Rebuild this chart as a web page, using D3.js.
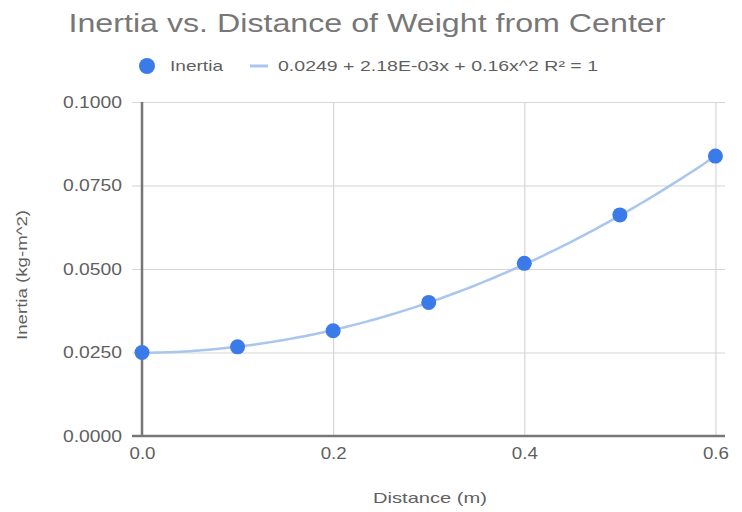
<!DOCTYPE html>
<html>
<head>
<meta charset="utf-8">
<script src="https://cdn.jsdelivr.net/npm/d3@7"></script>
<style>
  html, body { margin: 0; padding: 0; background: #fff; }
  svg { display: block; font-family: "Liberation Sans", Arial, sans-serif; }
</style>
</head>
<body>
<svg id="chart" width="742" height="512"></svg>
<script>
// Measured inertia at each weight distance
const distances = [0.0, 0.1, 0.2, 0.3, 0.4, 0.5, 0.6];
const inertia = [0.0250, 0.0267, 0.0315, 0.0400, 0.0517, 0.0662, 0.0838];

// Quadratic trendline coefficients: c0 + c1*x + c2*x^2
const trendCoefficients = [0.0249, 2.18e-3, 0.16];
const trendLabel = "0.0249 + 2.18E-03x + 0.16x^2 R² = 1";

const yTicks = [0, 0.025, 0.05, 0.075, 0.1];
const xTicks = [0.0, 0.2, 0.4, 0.6];

const svg = d3.select("#chart");
const margin = { left: 142, right: 17, top: 102, bottom: 76 };
const W = 742, H = 512;

const x = d3.scaleLinear().domain([0, 0.61]).range([margin.left, W - margin.right]);
const y = d3.scaleLinear().domain([0, 0.1]).range([H - margin.bottom, margin.top]);

const pointColor = "#3b7be9";
const trendColor = "#a9c6ef";
const labelColor = "#5f5f5f";

// Title
svg.append("text")
  .attr("x", 367).attr("y", 32)
  .attr("text-anchor", "middle")
  .attr("font-size", 26)
  .attr("fill", "#777")
  .attr("textLength", 597).attr("lengthAdjust", "spacingAndGlyphs")
  .text("Inertia vs. Distance of Weight from Center");

// Legend
const legend = svg.append("g");
legend.append("circle").attr("cx", 147).attr("cy", 66).attr("r", 8).attr("fill", pointColor);
legend.append("text").attr("x", 170).attr("y", 71).attr("font-size", 15).attr("fill", labelColor)
  .attr("textLength", 53).attr("lengthAdjust", "spacingAndGlyphs").text("Inertia");
legend.append("line").attr("x1", 250).attr("x2", 268).attr("y1", 66).attr("y2", 66)
  .attr("stroke", trendColor).attr("stroke-width", 3);
legend.append("text").attr("x", 278).attr("y", 71).attr("font-size", 15).attr("fill", labelColor)
  .attr("textLength", 320).attr("lengthAdjust", "spacingAndGlyphs").text(trendLabel);

// Horizontal gridlines with tick stubs
const yAxis = d3.axisLeft(y).tickValues(yTicks).tickFormat(d3.format(".4f"))
  .tickSize(-(x.range()[1] - x.range()[0] + 10)).tickPadding(10);
const gy = svg.append("g").attr("transform", `translate(${margin.left - 10},0)`).call(yAxis);
gy.select(".domain").remove();
gy.selectAll(".tick line").attr("stroke", "#d6d6d6").attr("stroke-width", 1.2);
gy.selectAll(".tick text").attr("font-size", 16).attr("fill", labelColor)
  .attr("font-family", "'Liberation Sans', Arial, sans-serif")
  .attr("textLength", 59).attr("lengthAdjust", "spacingAndGlyphs");

// Vertical gridlines
const xAxis = d3.axisBottom(x).tickValues(xTicks).tickFormat(d3.format(".1f"))
  .tickSize(-(y.range()[0] - y.range()[1])).tickPadding(12);
const gx = svg.append("g").attr("transform", `translate(0,${H - margin.bottom})`).call(xAxis);
gx.select(".domain").remove();
gx.selectAll(".tick line").attr("stroke", "#d6d6d6").attr("stroke-width", 1.2);
gx.selectAll(".tick text").attr("font-size", 16).attr("fill", labelColor)
  .attr("font-family", "'Liberation Sans', Arial, sans-serif")
  .attr("textLength", 26).attr("lengthAdjust", "spacingAndGlyphs");

// Axis baselines
svg.append("line")
  .attr("x1", x(0)).attr("x2", x(0))
  .attr("y1", y(0.1)).attr("y2", y(0))
  .attr("stroke", "#777").attr("stroke-width", 2.5);
svg.append("line")
  .attr("x1", margin.left - 10).attr("x2", W - margin.right)
  .attr("y1", y(0)).attr("y2", y(0))
  .attr("stroke", "#777").attr("stroke-width", 2.5);

// Trendline evaluated from its coefficients across the data range
const poly = t => trendCoefficients.reduce((s, c, i) => s + c * Math.pow(t, i), 0);
const trendXs = d3.range(0, 0.6 + 1e-9, 0.005);
svg.append("path")
  .datum(trendXs)
  .attr("fill", "none")
  .attr("stroke", trendColor)
  .attr("stroke-width", 2.5)
  .attr("d", d3.line().x(d => x(d)).y(d => y(poly(d))));

// Data points
svg.append("g").selectAll("circle")
  .data(distances.map((d, i) => [d, inertia[i]]))
  .join("circle")
  .attr("cx", d => x(d[0]))
  .attr("cy", d => y(d[1]))
  .attr("r", 7.5)
  .attr("fill", pointColor);

// Axis titles
svg.append("text")
  .attr("x", 430).attr("y", 503)
  .attr("text-anchor", "middle")
  .attr("font-size", 15).attr("fill", labelColor)
  .attr("textLength", 114).attr("lengthAdjust", "spacingAndGlyphs")
  .text("Distance (m)");
svg.append("text")
  .attr("transform", "translate(27,275) rotate(-90)")
  .attr("text-anchor", "middle")
  .attr("font-size", 15).attr("fill", labelColor)
  .attr("textLength", 130).attr("lengthAdjust", "spacingAndGlyphs")
  .text("Inertia (kg-m^2)");
</script>
</body>
</html>
